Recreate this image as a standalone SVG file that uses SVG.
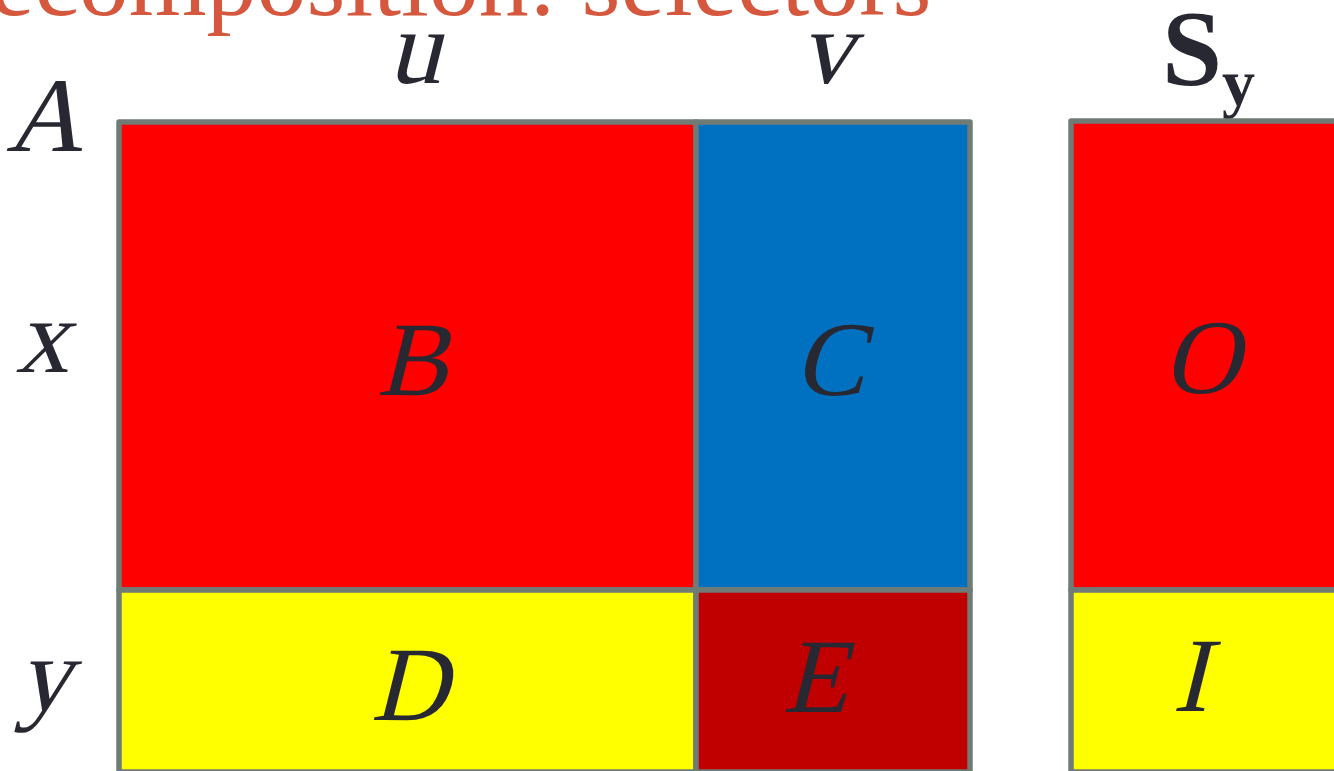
<svg xmlns="http://www.w3.org/2000/svg" width="1334" height="771" viewBox="0 0 1334 771">
<style>
.cell{stroke:#6F7B74;stroke-width:5.5;stroke-linejoin:round}
.lbl{font-family:"Liberation Serif","Times New Roman",serif;font-size:106px;fill:#282832;text-anchor:middle}
.title{font-family:"Liberation Serif","Times New Roman",serif;font-size:100px;fill:#D5573D}
.bold{font-family:"Liberation Serif","Times New Roman",serif;font-weight:bold;fill:#282832}
</style>
<rect width="1334" height="771" fill="#FFFFFF"/>
<text class="title" x="-60" y="15">decomposition: selectors</text>
<g id="headers">
<text class="lbl" transform="translate(44,151) skewX(-14)">A</text>
<text class="lbl" transform="translate(414,83) skewX(-14)">u</text>
<text class="lbl" transform="translate(826,83) skewX(-14)">v</text>
<text class="lbl" transform="translate(42,372) skewX(-14)">x</text>
<text class="lbl" transform="translate(44,710) skewX(-14)">y</text>
<text class="bold" x="1162" y="85" font-size="108">S<tspan font-size="66" y="105">y</tspan></text>
</g>
<g id="B"><rect class="cell" x="119" y="122" width="577" height="468" fill="#FF0000"/><text class="lbl" transform="translate(412,395) skewX(-14)">B</text></g>
<g id="C"><rect class="cell" x="696" y="122" width="274" height="468" fill="#0070C0"/><text class="lbl" transform="translate(829,395) skewX(-14)">C</text></g>
<g id="D"><rect class="cell" x="119" y="590" width="577" height="182" fill="#FFFF00"/><text class="lbl" transform="translate(409,720) skewX(-14)">D</text></g>
<g id="E"><rect class="cell" x="696" y="590" width="274" height="182" fill="#C00000"/><text class="lbl" transform="translate(815,712) skewX(-14)">E</text></g>
<g id="O"><rect class="cell" x="1071" y="121" width="300" height="469" fill="#FF0000"/><text class="lbl" transform="translate(1201,393) skewX(-14)">O</text></g>
<g id="I"><rect class="cell" x="1071" y="590" width="300" height="182" fill="#FFFF00"/><text class="lbl" transform="translate(1190,711) skewX(-14)">I</text></g>
<g id="connectors"></g>
</svg>
